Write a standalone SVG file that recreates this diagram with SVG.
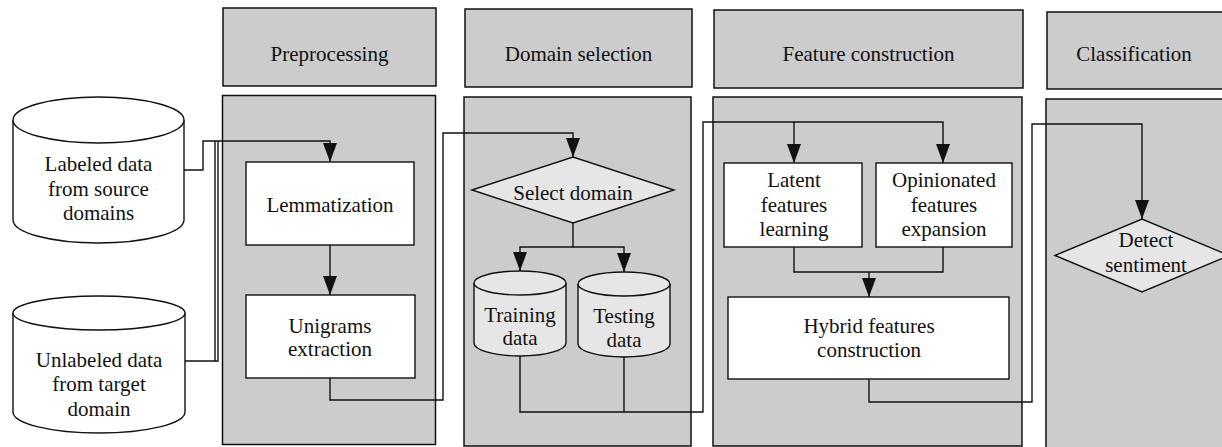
<svg xmlns="http://www.w3.org/2000/svg" width="1222" height="447" viewBox="0 0 1222 447">
<defs>
<style>
.hdr{fill:#cccccc;stroke:#111;stroke-width:1.5}
.body{fill:#cccccc;stroke:#111;stroke-width:1.5}
.box{fill:#ffffff;stroke:#111;stroke-width:1.4}
.dia{fill:#e6e6e6;stroke:#111;stroke-width:1.4}
.cylw{fill:#ffffff;stroke:#111;stroke-width:1.4}
.cylg{fill:#e6e6e6;stroke:#111;stroke-width:1.4}
text{font-family:"Liberation Serif","Times New Roman",serif;font-size:21px;fill:#111;text-anchor:middle}
.conn{fill:none;stroke:#111;stroke-width:1.4}
</style>
<marker id="arr" markerUnits="userSpaceOnUse" markerWidth="19" markerHeight="14" viewBox="0 0 19 14" refX="19" refY="7" orient="auto">
<path d="M0,0 L19,7 L0,14 z" fill="#111"/>
</marker>
</defs>
<rect width="1222" height="447" fill="#ffffff"/>

<g id="lane-preprocessing">
<rect class="hdr" x="223" y="8" width="213" height="78"/>
<text x="329.5" y="61">Preprocessing</text>
<rect class="body" x="222.5" y="95.5" width="213" height="349"/>
</g>
<g id="lane-domain">
<rect class="hdr" x="465" y="9" width="227" height="78"/>
<text x="578.5" y="61">Domain selection</text>
<rect class="body" x="464" y="97" width="227" height="349"/>
</g>
<g id="lane-feature">
<rect class="hdr" x="714" y="10" width="309" height="78"/>
<text x="868.5" y="61">Feature construction</text>
<rect class="body" x="713" y="97" width="309" height="349"/>
</g>
<g id="lane-classification">
<rect class="hdr" x="1047" y="12" width="180" height="77"/>
<text x="1134" y="61">Classification</text>
<rect class="body" x="1046" y="99" width="181" height="352"/>
</g>

<g id="labeled-data">
<path class="cylw" d="M13,120 V220 A85.5,23 0 0 0 184,220 V120"/>
<ellipse class="cylw" cx="98.5" cy="120" rx="85.5" ry="23"/>
<text x="98.5" y="171">Labeled data</text>
<text x="98.5" y="196">from source</text>
<text x="98.5" y="220">domains</text>
</g>
<g id="unlabeled-data">
<path class="cylw" d="M13,313 V412 A86,21 0 0 0 185,412 V313"/>
<ellipse class="cylw" cx="99" cy="313" rx="86" ry="17"/>
<text x="99" y="367">Unlabeled data</text>
<text x="99" y="391">from target</text>
<text x="99" y="416">domain</text>
</g>

<g id="lemmatization">
<rect class="box" x="246" y="162" width="168" height="83"/>
<text x="330" y="212">Lemmatization</text>
</g>
<g id="unigrams">
<rect class="box" x="246" y="295" width="169" height="83"/>
<text x="330" y="333">Unigrams</text>
<text x="330" y="356">extraction</text>
</g>

<g id="select-domain">
<polygon class="dia" points="472,190 573,157 674,190 573,223"/>
<text x="573" y="200">Select domain</text>
</g>
<g id="training-data">
<path class="cylg" d="M474,283 V343 A46,13 0 0 0 566,343 V283"/>
<ellipse class="cylg" cx="520" cy="283" rx="46" ry="12"/>
<text x="520" y="322">Training</text>
<text x="520" y="345">data</text>
</g>
<g id="testing-data">
<path class="cylg" d="M578,284 V344 A46,13 0 0 0 670,344 V284"/>
<ellipse class="cylg" cx="624" cy="284" rx="46" ry="12"/>
<text x="624" y="323">Testing</text>
<text x="624" y="347">data</text>
</g>

<g id="latent">
<rect class="box" x="724" y="163" width="138" height="84"/>
<text x="794" y="187">Latent</text>
<text x="794" y="212">features</text>
<text x="794" y="236">learning</text>
</g>
<g id="opinionated">
<rect class="box" x="876" y="163" width="136" height="84"/>
<text x="944" y="187">Opinionated</text>
<text x="944" y="212">features</text>
<text x="944" y="236">expansion</text>
</g>
<g id="hybrid">
<rect class="box" x="728" y="297" width="281" height="82"/>
<text x="869" y="333">Hybrid features</text>
<text x="869" y="357">construction</text>
</g>

<g id="detect-sentiment">
<polygon class="dia" points="1055,255.5 1142,219 1229,255.5 1142,292"/>
<text x="1146" y="247">Detect</text>
<text x="1146" y="272">sentiment</text>
</g>

<g id="connectors">
<path class="conn" d="M184,170 H203 V141 H330 V162" marker-end="url(#arr)"/>
<path class="conn" d="M185,361 H215 V141"/>
<path class="conn" d="M215,361 H218 V141"/>
<path class="conn" d="M330,245 V295" marker-end="url(#arr)"/>
<path class="conn" d="M330,378 V400 H443 V133 H573 V157" marker-end="url(#arr)"/>
<path class="conn" d="M573,223 V247 H520 V271" marker-end="url(#arr)"/>
<path class="conn" d="M573,247 H624 V272" marker-end="url(#arr)"/>
<path class="conn" d="M520,356 V412 H703 V122 H794 V163" marker-end="url(#arr)"/>
<path class="conn" d="M624,357 V412"/>
<path class="conn" d="M794,122 H943 V163" marker-end="url(#arr)"/>
<path class="conn" d="M794,247 V272 H943 V247"/>
<path class="conn" d="M869,272 V297" marker-end="url(#arr)"/>
<path class="conn" d="M869,379 V402 H1032 V124 H1142 V219" marker-end="url(#arr)"/>
</g>
</svg>
